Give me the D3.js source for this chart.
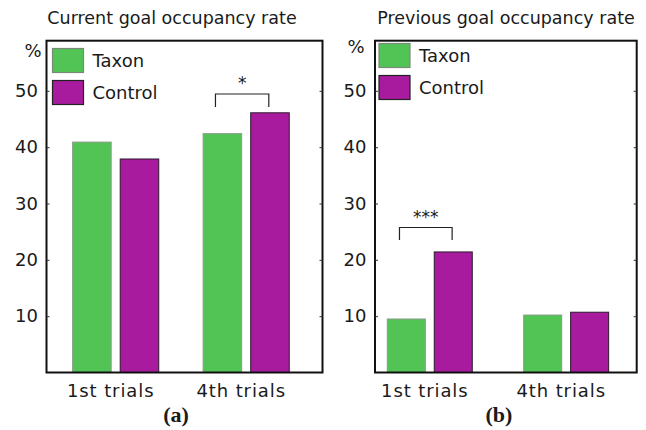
<!DOCTYPE html>
<html>
<head>
<meta charset="utf-8">
<script src="https://cdn.jsdelivr.net/npm/d3@7"></script>
<style>
  body { margin: 0; background: #fff; }
  text { font-family: "DejaVu Sans", sans-serif; fill: #1a1a1a; }
</style>
</head>
<body>
<div id="chart"></div>
<script>
// data
const trials = ["1st trials", "4th trials"];
const groups = ["Taxon", "Control"];
const taxonCurrent = [40.9, 42.4];
const controlCurrent = [37.9, 46.1];
const taxonPrevious = [9.5, 10.2];
const controlPrevious = [21.4, 10.7];
const yTicks = [10, 20, 30, 40, 50];
const titles = ["Current goal occupancy rate", "Previous goal occupancy rate"];
const panelTags = ["(a)", "(b)"];
const sigMarks = ["*", "***"];

const colors = { Taxon: "#51c455", Control: "#a91b9e" };
const strokes = { Taxon: "#8a9a8a", Control: "#2a1a2a" };

const width = 646, height = 430;
const svg = d3.select("#chart").append("svg")
  .attr("width", width)
  .attr("height", height);

const panels = [
  {
    frame: { left: 46.5, right: 322.5, top: 40.7, bottom: 372.5 },
    taxon: taxonCurrent, control: controlCurrent,
    padIn: 0.34, padOut: 0.2275, align: 0.44,
    legend: { x: 52.5, y: 48.5 },
    sig: { trial: 1, mark: sigMarks[0], y: 94, legs: 13 },
    title: titles[0], titleX: 172, tag: panelTags[0], tagX: 176,
    pct: { x: 33, y: 57 }
  },
  {
    frame: { left: 375, right: 636.7, top: 40.7, bottom: 372.5 },
    taxon: taxonPrevious, control: controlPrevious,
    padIn: 0.377, padOut: 0.148, align: 0.305,
    legend: { x: 379, y: 43.5 },
    sig: { trial: 0, mark: sigMarks[1], y: 227.5, legs: 12.5 },
    title: titles[1], titleX: 506, tag: panelTags[1], tagX: 499,
    pct: { x: 356, y: 53 }
  }
];

panels.forEach((p) => {
  const f = p.frame;
  const g = svg.append("g");

  const x = d3.scaleBand()
    .domain(trials)
    .range([f.left, f.right])
    .paddingInner(p.padIn)
    .paddingOuter(p.padOut)
    .align(p.align);

  const xSub = d3.scaleBand()
    .domain(groups)
    .range([0, x.bandwidth()])
    .paddingInner(0.19);

  const y = d3.scaleLinear()
    .domain([0, 58.9])
    .range([f.bottom, f.top]);

  const rows = trials.map((t, i) => ({ trial: t, Taxon: p.taxon[i], Control: p.control[i] }));

  // bars
  g.append("g")
    .selectAll("g")
    .data(rows)
    .join("g")
    .attr("transform", (d) => `translate(${x(d.trial)},0)`)
    .selectAll("rect")
    .data((d) => groups.map((k) => ({ key: k, value: d[k] })))
    .join("rect")
    .attr("x", (d) => xSub(d.key))
    .attr("y", (d) => y(d.value))
    .attr("width", xSub.bandwidth())
    .attr("height", (d) => y(0) - y(d.value))
    .attr("fill", (d) => colors[d.key])
    .attr("stroke", (d) => strokes[d.key])
    .attr("stroke-width", 1);

  // frame
  g.append("rect")
    .attr("x", f.left)
    .attr("y", f.top)
    .attr("width", f.right - f.left)
    .attr("height", f.bottom - f.top)
    .attr("fill", "none")
    .attr("stroke", "#111")
    .attr("stroke-width", 2);

  // y axis, ticks pointing inward
  const yAxis = g.append("g")
    .attr("transform", `translate(${f.left},0)`)
    .call(d3.axisLeft(y).tickValues(yTicks).tickSize(-3).tickPadding(8.5))
    .call((a) => a.select(".domain").remove());
  yAxis.selectAll("line").attr("stroke", "#333");
  yAxis.selectAll("text")
    .attr("font-family", "DejaVu Sans")
    .attr("font-size", 18)
    .attr("fill", "#222");

  g.append("g")
    .attr("transform", `translate(${f.right},0)`)
    .call(d3.axisRight(y).tickValues(yTicks).tickSize(-3).tickFormat(""))
    .call((a) => a.select(".domain").remove())
    .selectAll("line").attr("stroke", "#333");

  // x labels
  g.append("g")
    .selectAll("text")
    .data(trials)
    .join("text")
    .attr("x", (d) => x(d) + x.bandwidth() / 2 - 5)
    .attr("y", 397)
    .attr("text-anchor", "middle")
    .attr("font-size", 18)
    .attr("letter-spacing", 0.9)
    .text((d) => d);

  // "%" label
  g.append("text")
    .attr("x", p.pct.x)
    .attr("y", p.pct.y)
    .attr("text-anchor", "middle")
    .attr("font-size", 18)
    .text("%");

  // title
  g.append("text")
    .attr("x", p.titleX)
    .attr("y", 24)
    .attr("text-anchor", "middle")
    .attr("font-size", 17.5)
    .attr("fill", "#111")
    .text(p.title);

  // panel tag
  g.append("text")
    .attr("x", p.tagX)
    .attr("y", 422)
    .attr("text-anchor", "middle")
    .style("font-family", "'Liberation Serif', serif")
    .attr("font-weight", "bold")
    .attr("font-size", 22)
    .attr("fill", "#111")
    .text(p.tag);

  // legend
  const lg = g.append("g").attr("transform", `translate(${p.legend.x},${p.legend.y})`);
  groups.forEach((k, i) => {
    lg.append("rect")
      .attr("x", 0)
      .attr("y", i * 32)
      .attr("width", 31)
      .attr("height", 24)
      .attr("fill", colors[k])
      .attr("stroke", k === "Taxon" ? "#7a8a7a" : "#222")
      .attr("stroke-width", 1.2);
    lg.append("text")
      .attr("x", 40)
      .attr("y", i * 32 + 12)
      .attr("dy", "0.36em")
      .attr("font-size", 18)
      .text(k);
  });

  // significance bracket
  const sx0 = x(trials[p.sig.trial]) + xSub("Taxon") + xSub.bandwidth() * 0.32;
  const sx1 = x(trials[p.sig.trial]) + xSub("Control") + xSub.bandwidth() * 0.47;
  g.append("path")
    .attr("d", `M${sx0},${p.sig.y + p.sig.legs}V${p.sig.y}H${sx1}V${p.sig.y + p.sig.legs}`)
    .attr("fill", "none")
    .attr("stroke", "#222")
    .attr("stroke-width", 1.2);
  g.append("text")
    .attr("x", (sx0 + sx1) / 2)
    .attr("y", p.sig.y - 5)
    .attr("text-anchor", "middle")
    .attr("font-size", 17)
    .attr("fill", "#333")
    .text(p.sig.mark);
});
</script>
</body>
</html>
